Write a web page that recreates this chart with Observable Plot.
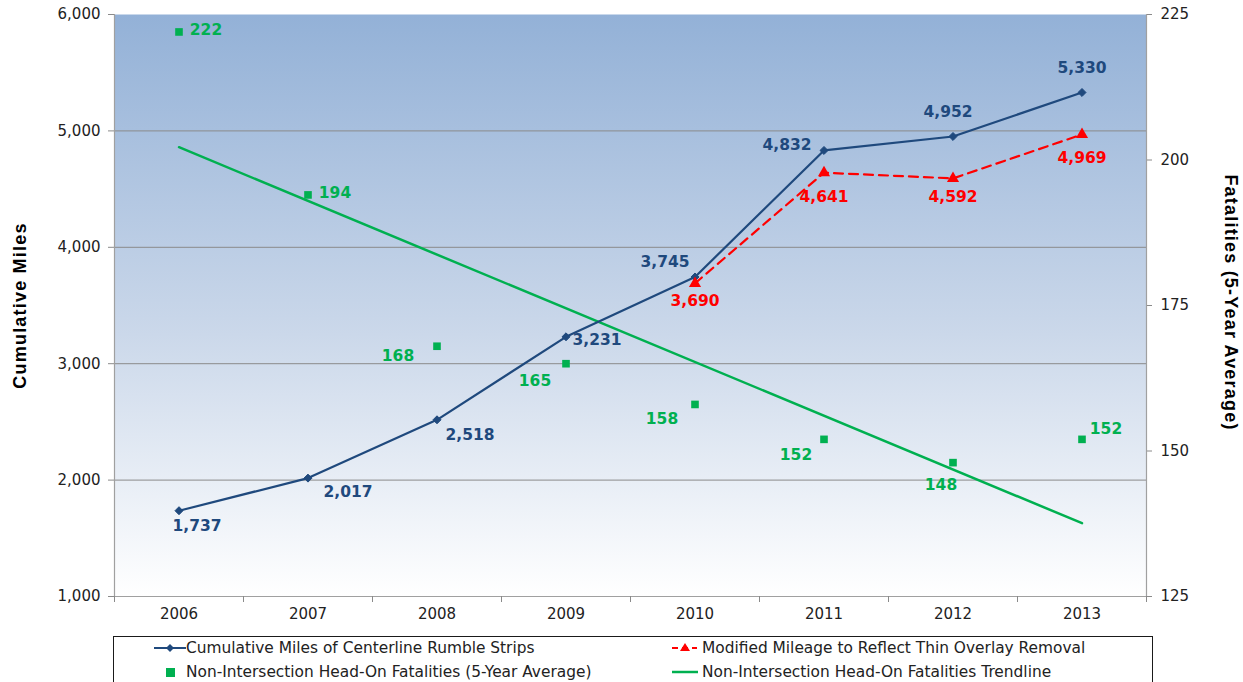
<!DOCTYPE html>
<html><head><meta charset="utf-8">
<script src="https://cdn.jsdelivr.net/npm/d3@7"></script>
<script src="https://cdn.jsdelivr.net/npm/@observablehq/plot@0.6"></script>
<style>
html,body{margin:0;padding:0;background:#fff;}
#wrap{position:relative;width:1243px;height:682px;overflow:hidden;font-family:"DejaVu Sans",Verdana,sans-serif;}
#legend{position:absolute;left:113px;top:636px;width:1040px;height:70px;border:1px solid #1a1a1a;box-sizing:border-box;font-size:15.4px;color:#222;}
.li{position:absolute;display:flex;align-items:center;height:20px;white-space:nowrap;}
.li svg{display:block;}
</style></head>
<body><div id="wrap"><div id="chart"></div><div id="legend"></div></div>
<script>
// ---- data ----
const years = [2006, 2007, 2008, 2009, 2010, 2011, 2012, 2013];
const miles = [1737, 2017, 2518, 3231, 3745, 4832, 4952, 5330];
const modYears = [2010, 2011, 2012, 2013];
const modMiles = [3690, 4641, 4592, 4969];
const fatalities = [222, 194, 168, 165, 158, 152, 148, 152];
const trendYears = [2006, 2013];
const trendFatalities = [202.2, 137.6];
const leftTicks = [1000, 2000, 3000, 4000, 5000, 6000];
const rightTicks = [125, 150, 175, 200, 225];
const seriesNames = [
  "Cumulative Miles of Centerline Rumble Strips",
  "Modified Mileage to Reflect Thin Overlay Removal",
  "Non-Intersection Head-On Fatalities (5-Year Average)",
  "Non-Intersection Head-On Fatalities Trendline"
];
const leftTitle = "Cumulative Miles";
const rightTitle = "Fatalities (5-Year Average)";

// ---- styling / layout ----
const BLUE = "#1f497d", RED = "#ff0000", GREEN = "#00b050";
const FONT = "DejaVu Sans, Verdana, sans-serif";
const TITLE_FONT = "Liberation Sans, Arial, sans-serif";
// map right-axis (fatalities) onto left-axis (miles) domain
const f2m = f => 1000 + (f - 125) * 50;
const m2f = m => (m - 1000) / 50 + 125;

const milesRows = years.map((year, i) => ({year, v: miles[i]}));
const modRows = modYears.map((year, i) => ({year, v: modMiles[i]}));
const fatalRows = years.map((year, i) => ({year, v: f2m(fatalities[i]), f: fatalities[i]}));
const trendRows = trendYears.map((year, i) => ({year, v: f2m(trendFatalities[i])}));

const milesOff = [[18,15],[40,14],[33,15],[31,3],[-30,-15],[-37,-5],[-5,-24],[0,-24]];
const modOff = [[0,18],[0,24],[0,19],[0,24]];
const fatalOff = [[27,-2],[27,-2],[-39,10],[-31,17],[-33,15],[-28,16],[-12,22],[24,-10]];

const labelMarks = (rows, offs, color, fmt) => rows.map((r, i) =>
  Plot.text([r], {x: "year", y: "v", text: fmt, dx: offs[i][0], dy: offs[i][1],
    fill: color, fontWeight: "bold", fontSize: 15.5, fontFamily: FONT}));

const chart = Plot.plot({
  width: 1243, height: 630,
  marginTop: 14, marginBottom: 34, marginLeft: 114, marginRight: 97,
  style: {fontFamily: FONT, fontSize: "15px", color: "#222", background: "transparent", overflow: "visible"},
  x: {type: "linear", domain: [2005.5, 2013.5]},
  y: {domain: [1000, 6000]},
  marks: [
    Plot.frame({fill: "url(#bg)", stroke: null}),
    Plot.ruleY([2000, 3000, 4000, 5000], {stroke: "#8a8a8a", strokeWidth: 1}),
    Plot.ruleX([2005.5, 2013.5], {stroke: "#a0a0a0", strokeWidth: 1.2}),
    Plot.ruleY([1000], {stroke: "#a0a0a0", strokeWidth: 1.2}),
    Plot.axisY({ticks: leftTicks, tickFormat: d3.format(","), tickSize: 6, tickPadding: 8, stroke: "#8a8a8a", fill: "#222", label: null, fontSize: 15}),
    Plot.axisY({anchor: "right", ticks: rightTicks.map(f2m), tickFormat: m => String(m2f(m)), tickSize: 5, tickPadding: 9, stroke: "#8a8a8a", fill: "#222", label: null, fontSize: 15}),
    Plot.axisX({ticks: years, tickFormat: d => String(d), tickSize: 0, tickPadding: 12, fill: "#222", label: null, fontSize: 15}),
    Plot.axisX({ticks: [2005.5, 2006.5, 2007.5, 2008.5, 2009.5, 2010.5, 2011.5, 2012.5, 2013.5], tickFormat: () => "", tickSize: 6, stroke: "#8a8a8a", label: null}),
    // trendline
    Plot.line(trendRows, {x: "year", y: "v", stroke: GREEN, strokeWidth: 2.5}),
    // series
    Plot.line(milesRows, {x: "year", y: "v", stroke: BLUE, strokeWidth: 2.2}),
    Plot.dot(milesRows, {x: "year", y: "v", symbol: "diamond2", r: 3.6, fill: BLUE, stroke: BLUE, strokeWidth: 1}),
    Plot.line(modRows, {x: "year", y: "v", stroke: RED, strokeWidth: 2.2, strokeDasharray: "9,6"}),
    Plot.dot(modRows, {x: "year", y: "v", symbol: "triangle", r: 4.5, fill: RED}),
    Plot.dot(fatalRows, {x: "year", y: "v", symbol: "square", r: 4.3, fill: GREEN}),
    ...labelMarks(milesRows, milesOff, BLUE, d => d3.format(",")(d.v)),
    ...labelMarks(modRows, modOff, RED, d => d3.format(",")(d.v)),
    ...labelMarks(fatalRows, fatalOff, GREEN, d => String(d.f)),
    // axis titles
    Plot.text([leftTitle], {frameAnchor: "left", textAnchor: "middle", dx: -94, rotate: -90, fontWeight: "bold", fontSize: 18, fontFamily: TITLE_FONT, fill: "#000"}),
    Plot.text([rightTitle], {frameAnchor: "right", textAnchor: "middle", dx: 84, dy: -3, rotate: 90, fontWeight: "bold", fontSize: 18, fontFamily: TITLE_FONT, fill: "#000"})
  ]
});

// gradient background
const svg = d3.select(chart);
const defs = svg.insert("defs", ":first-child");
const g = defs.append("linearGradient").attr("id", "bg").attr("x1", 0).attr("y1", 0).attr("x2", 0).attr("y2", 1);
g.append("stop").attr("offset", "0%").attr("stop-color", "#93b1d7");
g.append("stop").attr("offset", "55%").attr("stop-color", "#cbd8ea");
g.append("stop").attr("offset", "100%").attr("stop-color", "#ffffff");
svg.selectAll("text").filter(function() { const t = this.textContent; return t === leftTitle || t === rightTitle; })
  .attr("letter-spacing", "1.2px");
document.getElementById("chart").appendChild(chart);

// legend
const legend = d3.select("#legend");
function item(left, top, markerSvg, text) {
  const d = legend.append("div").attr("class", "li").style("left", left + "px").style("top", top + "px");
  d.html(markerSvg);
  d.append("span").text(text);
}
item(40, 1, `<svg width="32" height="20"><line x1="0" y1="10" x2="32" y2="10" stroke="${BLUE}" stroke-width="2"/><path d="M16,6 L20,10 L16,14 L12,10Z" fill="${BLUE}"/></svg>`, seriesNames[0]);
item(558, 1, `<svg width="30" height="20"><line x1="0" y1="10" x2="25" y2="10" stroke="${RED}" stroke-width="2" stroke-dasharray="6,4"/><path d="M13,5 L18,13 L8,13Z" fill="${RED}"/></svg>`, seriesNames[1]);
item(40, 25, `<svg width="32" height="20"><rect x="12" y="6" width="9" height="9" fill="${GREEN}"/></svg>`, seriesNames[2]);
item(558, 25, `<svg width="30" height="20"><line x1="0" y1="10" x2="26" y2="10" stroke="${GREEN}" stroke-width="2.5"/></svg>`, seriesNames[3]);
</script>
</body></html>
